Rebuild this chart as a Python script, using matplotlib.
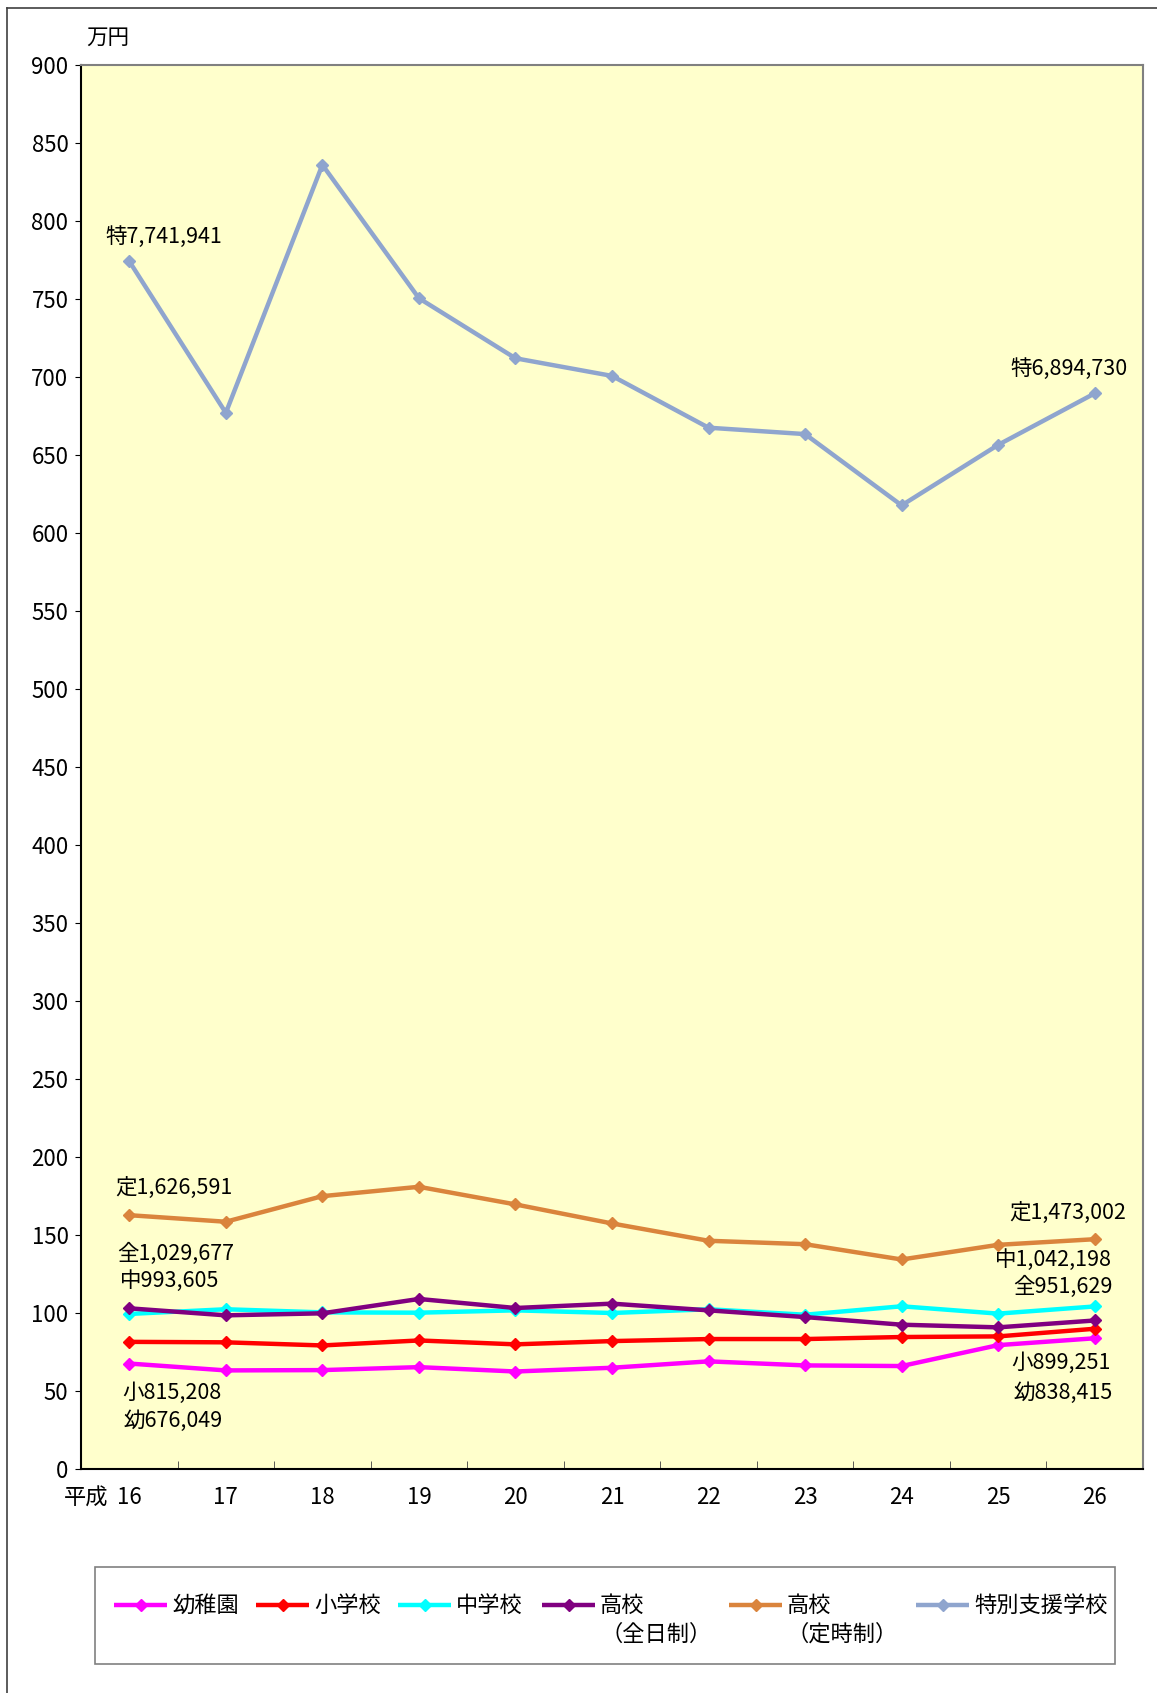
import matplotlib
matplotlib.use('Agg')
import matplotlib.pyplot as plt
from matplotlib.lines import Line2D
from matplotlib.patches import Rectangle

plt.rcParams['font.family'] = ['Noto Sans CJK JP', 'DejaVu Sans']

# 平成16～26年度 (単位: 万円)
years = ['16', '17', '18', '19', '20', '21', '22', '23', '24', '25', '26']
youchien = [67.6, 63.2, 63.4, 65.3, 62.5, 64.9, 69.0, 66.4, 66.0, 79.4, 83.8]
shougakkou = [81.5, 81.2, 79.2, 82.4, 79.9, 82.0, 83.3, 83.3, 84.6, 85.0, 89.9]
chuugakkou = [99.4, 102.4, 100.4, 100.2, 101.7, 100.0, 102.4, 98.9, 104.3, 99.6, 104.2]
koukou_zen = [103.0, 98.5, 99.8, 109.0, 103.2, 106.0, 101.7, 97.4, 92.5, 90.8, 95.2]
koukou_tei = [162.7, 158.5, 174.9, 180.9, 169.6, 157.4, 146.3, 144.1, 134.3, 143.7, 147.3]
tokubetsu = [774.2, 677.0, 836.0, 750.5, 712.0, 700.7, 667.5, 663.4, 617.7, 656.5, 689.5]

labels = ['幼稚園', '小学校', '中学校', '高校', '高校', '特別支援学校']
sublabels = ['', '', '', '（全日制）', '（定時制）', '']
colors = ['#FF00FF', '#FF0000', '#00FFFF', '#800080', '#DA843C', '#8FA5CE']
series = [youchien, shougakkou, chuugakkou, koukou_zen, koukou_tei, tokubetsu]

# labels at first / last year
notes = [
    ('特7,741,941', 0.36, 790), ('特6,894,730', 9.73, 705),
    ('定1,626,591', 0.46, 180), ('全1,029,677', 0.48, 138),
    ('中993,605', 0.42, 120.5), ('小815,208', 0.44, 49),
    ('幼676,049', 0.45, 30.5), ('定1,473,002', 9.72, 164),
    ('中1,042,198', 9.57, 134), ('全951,629', 9.67, 117),
    ('小899,251', 9.65, 68), ('幼838,415', 9.67, 48.5),
]

W, H = 1157, 1693
fs = 15.5
fig = plt.figure(figsize=(W / 100, H / 100), dpi=100)
ax = fig.add_axes([81 / W, 1 - 1469 / H, (1143 - 81) / W, (1469 - 65) / H])
ax.set_facecolor('#FFFFCC')

x = list(range(len(years)))
for vals, c in zip(series, colors):
    ax.plot(x, vals, color=c, lw=3.2, marker='D', ms=6.5, mec=c, mfc=c)

for txt, tx, ty in notes:
    ax.text(tx, ty, txt, ha='center', va='center', fontsize=fs)

ax.set_xlim(-0.5, len(years) - 0.5)
ax.set_ylim(0, 900)
ax.set_yticks(range(0, 901, 50))
ax.tick_params(axis='y', direction='out', length=4, pad=5, labelsize=16)
ax.set_xticks(x)
ax.set_xticklabels(years, fontsize=16)
ax.tick_params(axis='x', which='major', length=0, pad=12)
ax.set_xticks([i + 0.5 for i in x[:-1]], minor=True)
ax.tick_params(axis='x', which='minor', direction='in', length=6, color='#404040')

for s in ['top', 'right']:
    ax.spines[s].set_color('#808080')
    ax.spines[s].set_linewidth(1.5)
for s in ['left', 'bottom']:
    ax.spines[s].set_color('black')
    ax.spines[s].set_linewidth(1.5)

fig.text(108 / W, 1 - 38 / H, '万円', ha='center', va='center', fontsize=fs)
fig.text(86 / W, 1 - 1498 / H, '平成', ha='center', va='center', fontsize=16)

# outer frame (left/top)
fig.add_artist(Line2D([7 / W, 7 / W], [0, 1 - 8 / H], color='#404040', lw=1.2))
fig.add_artist(Line2D([7 / W, 1], [1 - 8 / H, 1 - 8 / H], color='#404040', lw=1.2))

# legend box
fig.add_artist(Rectangle((95 / W, 1 - 1664 / H), (1115 - 95) / W, (1664 - 1567) / H,
                         facecolor='white', edgecolor='#808080', lw=1.2))
handle_x = [114, 256, 398, 542, 729, 916]
ly = 1 - 1605 / H
for i in range(len(labels)):
    x0 = handle_x[i]
    fig.add_artist(Line2D([x0 / W, (x0 + 53) / W], [ly, ly], color=colors[i], lw=3.2,
                          solid_capstyle='butt'))
    fig.add_artist(Line2D([(x0 + 26.5) / W], [ly], color=colors[i], marker='D', ms=6.5,
                          mec=colors[i], mfc=colors[i]))
    fig.text((x0 + 58) / W, ly, labels[i], ha='left', va='center', fontsize=16)
    if sublabels[i]:
        fig.text((x0 + 58) / W, 1 - 1634 / H, sublabels[i], ha='left', va='center', fontsize=16)

fig.savefig('out.png', dpi=100)
